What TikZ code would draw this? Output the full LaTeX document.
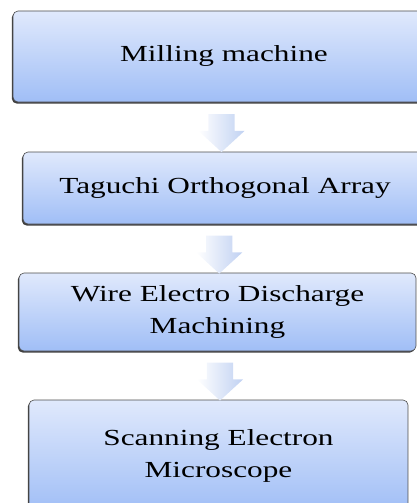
\documentclass[tikz,border=0pt]{standalone}
\usepackage{fontspec}
\setmainfont{Liberation Serif}[FakeStretch=1.36]
\usetikzlibrary{shapes.arrows,shadows,calc}

\definecolor{boxtop}{RGB}{224,233,252}
\definecolor{boxbot}{RGB}{160,190,246}
\definecolor{arrowblue}{RGB}{192,209,242}

\tikzset{
  stagebox/.style={draw=black!70, line width=0.6pt, rounded corners=5pt, top color=boxtop, bottom color=boxbot,
    align=center, inner sep=0pt, font=\fontsize{23}{31.5}\selectfont,
    drop shadow={shadow xshift=-1.2pt, shadow yshift=-1.6pt, fill=black!75, opacity=1}},
  downarrow/.style={single arrow, rotate=-90, minimum height=38pt, inner xsep=0pt, inner ysep=13pt,
    single arrow head extend=10pt, single arrow tip angle=95, single arrow head indent=0pt,
    left color=white, right color=arrowblue}
}

\begin{document}
\begin{tikzpicture}[x=1pt,y=1pt]
\useasboundingbox (0,0) rectangle (417,-503);
\clip (0,0) rectangle (417,-503);
\node [stagebox, minimum width=422pt, minimum height=91pt] (mill) at (224,-56.5) {\raisebox{-2pt}{Milling machine}};
\node [stagebox, minimum width=404pt, minimum height=72pt] (taguchi) at (225,-188) {Taguchi Orthogonal Array};
\node [stagebox, minimum width=397pt, minimum height=78pt] (wedm) at (217.5,-312) {Wire Electro Discharge\\Machining};
\node [stagebox, minimum width=379pt, minimum height=112pt] (sem) at (218.5,-456) {Scanning Electron\\Microscope};
% block arrows between the stages
\node [downarrow] (arr1) at ($(mill.south)!0.5!(taguchi.north)+(-3,0)$) {};
\node [downarrow] (arr2) at ($(taguchi.south)!0.5!(wedm.north)+(-2,0)$) {};
\node [downarrow] (arr3) at ($(wedm.south)!0.5!(sem.north)+(2,0)$) {};
\end{tikzpicture}
\end{document}
